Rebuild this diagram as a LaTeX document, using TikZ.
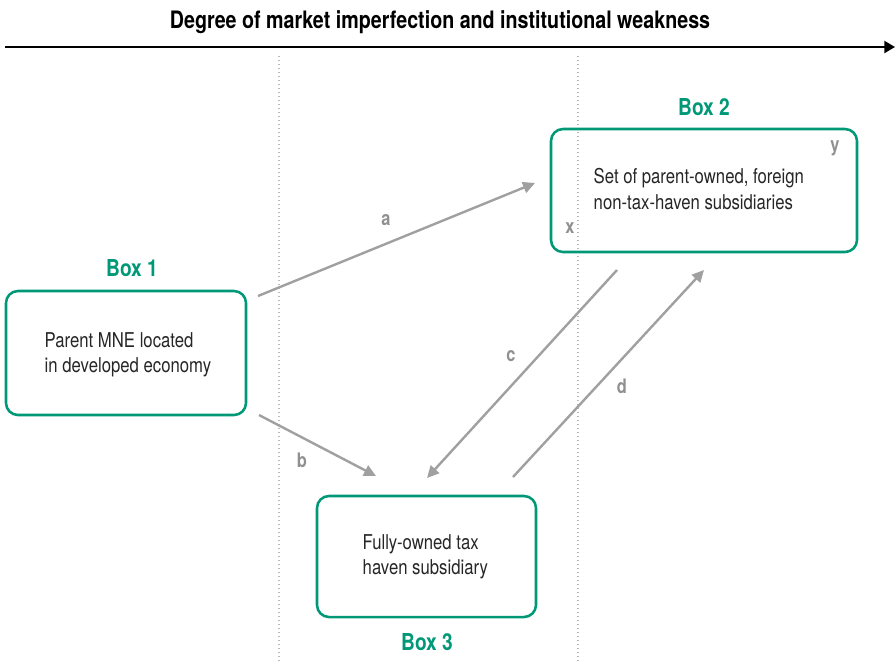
\documentclass[tikz,border=0pt]{standalone}
\usepackage{fontspec}
\setmainfont{TeX Gyre Heros}[FakeStretch=0.82]
\usetikzlibrary{arrows.meta}
\definecolor{boxgreen}{RGB}{0,152,118}
\definecolor{linkgray}{RGB}{160,160,160}
\tikzset{
  entity/.style={draw=boxgreen,line width=1.9pt,rounded corners=9pt,inner sep=0pt},
  boxtitle/.style={text=boxgreen,font=\fontsize{17.5}{20}\selectfont\bfseries},
  boxtext/.style={font=\fontsize{15.3}{18.8}\selectfont,align=left,text=black!85},
  link/.style={linkgray,line width=1.8pt,-{Triangle[length=9pt,width=8.5pt]}},
  linklabel/.style={text=linkgray!90!black,font=\fontsize{15}{17}\selectfont\bfseries}
}
\begin{document}
\begin{tikzpicture}[x=0.75pt,y=-0.75pt]
\useasboundingbox (0,0) rectangle (895,662);
% axis on top
\node[font=\fontsize{18}{20}\selectfont\bfseries] (axistitle) at (440,22) {Degree of market imperfection and institutional weakness};
\coordinate (axisL) at (5,47);
\coordinate (axisR) at (895,47);
\draw[line width=1.5pt,-{Triangle[length=8pt,width=9pt]}] (axisL) -- (axisR);
% zone borders
\foreach\x in {279,578} {
  \draw[gray!55,line width=1pt,dotted] (\x,56) -- (\x,662);
}
% the three boxes
\node[entity,minimum width=240*0.75pt,minimum height=124*0.75pt] (box1) at (126,353) {};
\node[entity,minimum width=306*0.75pt,minimum height=123*0.75pt] (box2) at (704,190.5) {};
\node[entity,minimum width=219*0.75pt,minimum height=121*0.75pt] (box3) at (426.5,556.5) {};
\node[boxtitle] (t1) at (132,268) {Box 1};
\node[boxtitle] (t2) at (704,107) {Box 2};
\node[boxtitle] (t3) at (427,642) {Box 3};
\node[boxtext,anchor=west] (txt1) at (40,355) {Parent MNE located\\in developed economy};
\node[boxtext,anchor=west] (txt2) at (589,189) {Set of parent-owned, foreign\\non-tax-haven subsidiaries};
\node[boxtext,anchor=west] (txt3) at (358,557) {Fully-owned tax\\ haven subsidiary};
\node[linklabel] (ly) at (835,148) {y};
\node[linklabel] (lx) at (570,228) {x};
% links between the boxes
\coordinate (a0) at (258,296); \coordinate (a1) at (535,183);
\coordinate (b0) at (259,415); \coordinate (b1) at (376,476);
\coordinate (c0) at (617,270); \coordinate (c1) at (427,478);
\coordinate (d0) at (513,477); \coordinate (d1) at (704,270);
\draw[link] (a0) -- (a1);
\draw[link] (b0) -- (b1);
\draw[link] (c0) -- (c1);
\draw[link] (d0) -- (d1);
\node[linklabel] (la) at (386,220) {a};
\node[linklabel] (lb) at (302,460) {b};
\node[linklabel] (lc) at (511,356) {c};
\node[linklabel] (ld) at (622,386) {d};
\end{tikzpicture}
\end{document}
